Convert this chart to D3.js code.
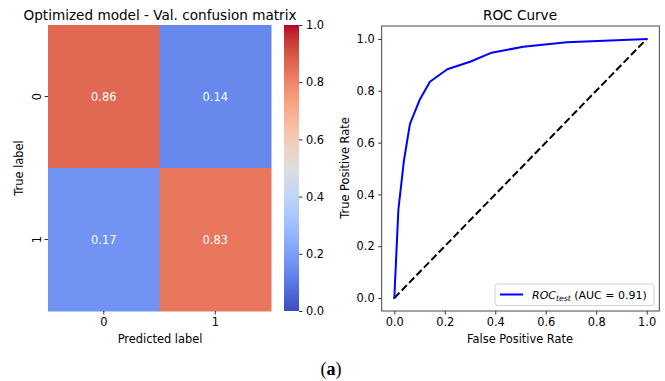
<!DOCTYPE html>
<html><head><meta charset="utf-8">
<script src="https://cdn.jsdelivr.net/npm/d3@7"></script>
<style>
body{margin:0;background:#fff;}
svg{display:block;font-family:"DejaVu Sans",sans-serif;}
</style></head>
<body>
<svg id="chart" width="665" height="381"></svg>
<script>
// ---- data ----
const cmLabels = ["0", "1"];
const cmValues = [[0.86, 0.14], [0.17, 0.83]];
const cbTicks = [0.0, 0.2, 0.4, 0.6, 0.8, 1.0];
const rocFpr = [0.0, 0.016, 0.038, 0.062, 0.10, 0.141, 0.21, 0.30, 0.386, 0.511, 0.683, 1.0];
const rocTpr = [0.0, 0.34, 0.53, 0.672, 0.764, 0.835, 0.883, 0.912, 0.947, 0.970, 0.987, 1.0];
const rocTicks = [0.0, 0.2, 0.4, 0.6, 0.8, 1.0];

// coolwarm colour stops (style)
const cw = [[59,76,192],[68,90,204],[77,104,215],[87,117,225],[98,130,234],[108,142,241],[119,154,247],[130,165,251],[141,176,254],[152,185,255],[163,194,255],[174,201,253],[184,208,249],[194,213,244],[204,217,238],[213,219,230],[221,221,221],[229,216,209],[236,211,197],[241,204,185],[245,196,173],[247,187,160],[247,177,148],[247,166,135],[244,154,123],[241,141,111],[236,127,99],[229,112,88],[222,96,77],[213,80,66],[203,62,56],[192,40,47],[180,4,38]];
const color = d3.scaleLinear()
  .domain(cw.map((_, i) => i / (cw.length - 1)))
  .range(cw.map(c => `rgb(${c[0]},${c[1]},${c[2]})`))
  .clamp(true);

const svg = d3.select("#chart");
const FS = 11.4;
const TFS = 13.6;

// ---- heatmap ----
const hx = d3.scaleBand().domain(cmLabels).range([48, 271]);
const hy = d3.scaleBand().domain(cmLabels).range([25, 311]);
const cells = [];
cmValues.forEach((row, i) => row.forEach((v, j) => cells.push({r: cmLabels[i], c: cmLabels[j], v})));
const hm = svg.append("g");
hm.selectAll("rect").data(cells).join("rect")
  .attr("x", d => hx(d.c)).attr("y", d => hy(d.r))
  .attr("width", hx.bandwidth() + 0.5).attr("height", hy.bandwidth() + 0.5)
  .attr("fill", d => color(d.v));
hm.selectAll("text").data(cells).join("text")
  .attr("x", d => hx(d.c) + hx.bandwidth() / 2)
  .attr("y", d => hy(d.r) + hy.bandwidth() / 2)
  .attr("dy", "0.36em").attr("text-anchor", "middle")
  .attr("fill", "#ffffff").attr("font-size", FS)
  .text(d => d.v.toFixed(2));

// heatmap axes
const hxAxis = svg.append("g").attr("transform", "translate(0,311)")
  .call(d3.axisBottom(hx).tickSize(3.5).tickPadding(3.5));
const hyAxis = svg.append("g").attr("transform", "translate(48,0)")
  .call(d3.axisLeft(hy).tickSize(3.5).tickPadding(3.5));
[hxAxis, hyAxis].forEach(a => {
  a.select(".domain").remove();
  a.selectAll(".tick line").attr("stroke", "#000").attr("stroke-width", 0.8);
  a.selectAll(".tick text").attr("font-size", FS).attr("fill", "#000").attr("font-family", "DejaVu Sans");
});
hyAxis.selectAll(".tick text")
  .attr("text-anchor", "middle").attr("x", 0).attr("dy", 0)
  .attr("transform", "translate(-11,0) rotate(-90)")
  .attr("dominant-baseline", "central");

svg.append("text").attr("x", 160).attr("y", 19.5).attr("text-anchor", "middle")
  .attr("font-size", TFS).text("Optimized model - Val. confusion matrix");
svg.append("text").attr("x", 160).attr("y", 343).attr("text-anchor", "middle")
  .attr("font-size", FS).text("Predicted label");
svg.append("text").attr("transform", "translate(23,168) rotate(-90)").attr("text-anchor", "middle")
  .attr("font-size", FS).text("True label");

// ---- colorbar ----
const cbY = d3.scaleLinear().domain([0, 1]).range([311, 25]);
const defs = svg.append("defs");
const grad = defs.append("linearGradient").attr("id", "cbgrad")
  .attr("x1", 0).attr("y1", 1).attr("x2", 0).attr("y2", 0);
d3.range(0, 1.0001, 1 / 64).forEach(t => grad.append("stop").attr("offset", t).attr("stop-color", color(t)));
svg.append("rect").attr("x", 284).attr("y", cbY(1)).attr("width", 15)
  .attr("height", cbY(0) - cbY(1)).attr("fill", "url(#cbgrad)");
const cbAxis = svg.append("g").attr("transform", "translate(299,0)")
  .call(d3.axisRight(cbY).tickValues(cbTicks).tickFormat(d3.format(".1f")).tickSize(3.5).tickPadding(3.5));
cbAxis.select(".domain").remove();
cbAxis.selectAll(".tick line").attr("stroke", "#000").attr("stroke-width", 0.8);
cbAxis.selectAll(".tick text").attr("font-size", FS).attr("fill", "#000").attr("font-family", "DejaVu Sans");

// ---- ROC ----
const rx = d3.scaleLinear().domain([-0.05, 1.05]).range([381.7, 659.3]);
const ry = d3.scaleLinear().domain([-0.05, 1.05]).range([311, 26]);
const rxAxis = svg.append("g").attr("transform", "translate(0,311)")
  .call(d3.axisBottom(rx).tickValues(rocTicks).tickFormat(d3.format(".1f")).tickSize(3.5).tickPadding(3.5));
const ryAxis = svg.append("g").attr("transform", "translate(381.7,0)")
  .call(d3.axisLeft(ry).tickValues(rocTicks).tickFormat(d3.format(".1f")).tickSize(3.5).tickPadding(3.5));
[rxAxis, ryAxis].forEach(a => {
  a.select(".domain").remove();
  a.selectAll(".tick line").attr("stroke", "#000").attr("stroke-width", 0.8);
  a.selectAll(".tick text").attr("font-size", FS).attr("fill", "#000").attr("font-family", "DejaVu Sans");
});

// diagonal
svg.append("line").attr("x1", rx(0)).attr("y1", ry(0)).attr("x2", rx(1)).attr("y2", ry(1))
  .attr("stroke", "#000").attr("stroke-width", 2).attr("stroke-dasharray", "7.4,3.2");
// ROC curve
const rocPts = rocFpr.map((f, i) => [f, rocTpr[i]]);
svg.append("path").datum(rocPts)
  .attr("d", d3.line().x(d => rx(d[0])).y(d => ry(d[1])))
  .attr("fill", "none").attr("stroke", "#0000ff").attr("stroke-width", 2)
  .attr("stroke-linejoin", "round").attr("stroke-linecap", "square");

// frame
svg.append("rect").attr("x", 381.7).attr("y", 26).attr("width", 659.3 - 381.7).attr("height", 311 - 26)
  .attr("fill", "none").attr("stroke", "#333").attr("stroke-width", 0.9);

// legend
const lg = svg.append("g");
lg.append("rect").attr("x", 495).attr("y", 284).attr("width", 159).attr("height", 21.5)
  .attr("rx", 2.5).attr("fill", "#fff").attr("fill-opacity", 0.8)
  .attr("stroke", "#cccccc").attr("stroke-width", 0.9);
lg.append("line").attr("x1", 500).attr("x2", 523).attr("y1", 294.5).attr("y2", 294.5)
  .attr("stroke", "#0000ff").attr("stroke-width", 2);
const LFS = 11;
const lt = lg.append("text").attr("x", 532).attr("y", 298.5).attr("font-size", LFS);
lt.append("tspan").attr("font-style", "italic").text("ROC");
lt.append("tspan").attr("font-style", "italic").attr("font-size", LFS * 0.7).attr("dy", 2).text("test");
lt.append("tspan").attr("dy", -2).text(" (AUC = 0.91)");

svg.append("text").attr("x", 520).attr("y", 19.5).attr("text-anchor", "middle")
  .attr("font-size", TFS).text("ROC Curve");
svg.append("text").attr("x", 520).attr("y", 343).attr("text-anchor", "middle")
  .attr("font-size", FS).text("False Positive Rate");
svg.append("text").attr("transform", "translate(349,168) rotate(-90)").attr("text-anchor", "middle")
  .attr("font-size", FS).text("True Positive Rate");

// caption
const cap = svg.append("text").attr("x", 331).attr("y", 375).attr("text-anchor", "middle")
  .attr("font-family", "Liberation Serif, serif").attr("font-size", 18);
cap.append("tspan").text("(");
cap.append("tspan").attr("font-weight", "bold").text("a");
cap.append("tspan").text(")");
</script>
</body></html>
